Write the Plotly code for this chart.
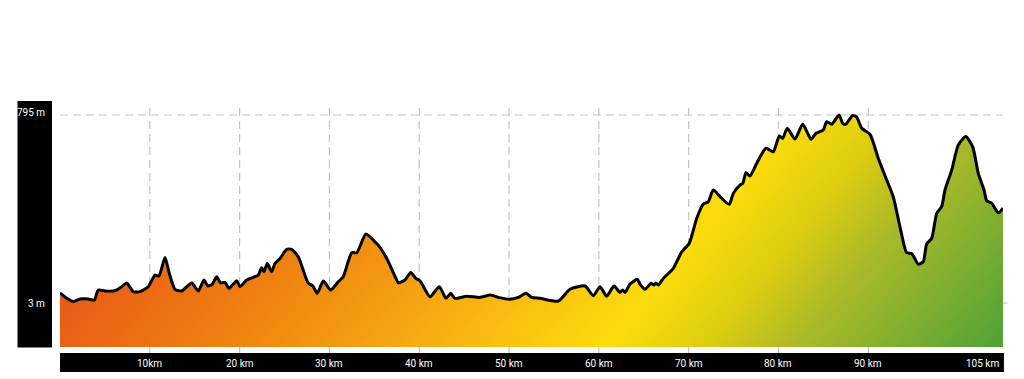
import base64
import numpy as np
import plotly.graph_objects as go

# ---------------- data ----------------
km = [0, 0.75, 1.48, 2.23, 3.15, 3.82, 4.26, 5.01, 6.12, 6.87,
      7.43, 8.16, 8.91, 9.83, 10.58, 11.02, 11.69, 12.17, 12.8, 13.55,
      14.66, 15.4, 16.03, 16.45, 16.96, 17.45, 17.89, 18.37, 18.82, 19.67,
      20.04, 20.79, 21.71, 22.08, 22.46, 22.71, 23.08, 23.57, 23.94, 24.5,
      25.24, 25.8, 26.53, 27.65, 28.14, 28.65, 29.32, 30.14, 30.99, 31.54,
      32.48, 33.04, 34.07, 35.07, 35.44, 36.38, 37.41, 37.67, 38.41, 39.05,
      39.61, 40.08, 41.2, 42.23, 42.98, 43.5, 43.98, 45.28, 46.77, 47.88,
      48.8, 50.1, 51.03, 51.89, 52.52, 53.45, 55.48, 56.79, 58.46, 59.38,
      60.13, 60.87, 61.69, 62.35, 62.65, 62.91, 63.47, 64.28, 64.58, 65.14,
      65.81, 66.14, 66.36, 66.62, 67.18, 68.29, 69.23, 70.07, 70.9, 71.63,
      72.19, 72.74, 73.68, 74.52, 74.97, 75.71, 76.02, 76.38, 76.83, 77.58,
      78.61, 79.42, 80.09, 80.47, 80.98, 81.84, 82.7, 83.62, 84.18, 84.99,
      85.37, 85.93, 86.74, 87.15, 87.48, 88.26, 88.71, 89.27, 90.19, 91.11,
      92.05, 92.78, 93.53, 94.28, 94.83, 95.57, 96.12, 96.5, 97.06, 97.62,
      98.17, 98.54, 99.29, 100.02, 100.85, 101.63, 102.25, 102.89, 103.19, 103.75,
      104.48, 105]

elev = [46, 23, 9, 20, 20, 16, 58, 54, 55, 72,
        88, 51, 51, 72, 121, 117, 195, 128, 61, 54,
        88, 54, 100, 75, 83, 114, 88, 90, 65, 97,
        72, 100, 114, 121, 152, 135, 170, 135, 170, 191,
        229, 229, 198, 86, 76, 44, 96, 58, 93, 114,
        215, 215, 294, 261, 247, 191, 107, 88, 100, 132,
        107, 97, 30, 72, 23, 44, 23, 32, 27, 37,
        27, 19, 27, 44, 27, 23, 11, 61, 75, 34,
        72, 32, 75, 48, 58, 48, 83, 103, 83, 61,
        86, 79, 88, 79, 107, 149, 219, 255, 360, 420,
        430, 479, 444, 419, 465, 500, 507, 552, 538, 592,
        655, 640, 707, 697, 739, 694, 756, 693, 718, 732,
        767, 756, 795, 760, 756, 793, 786, 739, 714, 613,
        521, 451, 324, 215, 212, 167, 177, 252, 276, 381,
        409, 479, 563, 669, 704, 661, 549, 479, 434, 423,
        383, 403]

grid_km = [10, 20, 30, 40, 50, 60, 70, 80, 90]
tick_km = [10, 20, 30, 40, 50, 60, 70, 80, 90, 105]
tick_labels = ["10km", "20 km", "30 km", "40 km", "50 km", "60 km",
               "70 km", "80 km", "90 km", "105 km"]
y_label_vals = [795, 3]
y_labels = ["795 m", "3 m"]

# ---------------- styling ----------------
X_MIN, X_MAX = 0, 105
Y_MIN, Y_MAX = -182, 854
GRID_TOP = 824
W, H = 1024, 379
ML, MR, MT, MB = 60, 21, 101, 32
PW, PH = W - ML - MR, H - MT - MB

grad_stops = [(0.00, "#e2461c"), (0.14, "#e85a18"), (0.25, "#ec7213"),
              (0.33, "#ef8510"), (0.47, "#f5a812"), (0.55, "#f9bf11"),
              (0.61, "#fbcf0f"), (0.655, "#fbdc0b"), (0.74, "#dccd11"),
              (0.82, "#aab929"), (1.00, "#4fa236")]
GRID_COLOR = "#c4c4c4"
FONT = "Roboto"
SMOOTH = 0.6

# diagonal gradient image (pure styling, fills plot area)
stops_svg = "".join(f'<stop offset="{o}" stop-color="{c}"/>' for o, c in grad_stops)
svg = (f'<svg xmlns="http://www.w3.org/2000/svg" width="{PW}" height="{PH}" '
       f'viewBox="0 0 {PW} {PH}" preserveAspectRatio="none"><defs>'
       f'<linearGradient id="g" gradientUnits="userSpaceOnUse" x1="0" y1="0" '
       f'x2="688" y2="559">{stops_svg}</linearGradient></defs>'
       f'<rect x="0" y="0" width="{PW}" height="{PH}" fill="url(#g)"/></svg>')
src = "data:image/svg+xml;base64," + base64.b64encode(svg.encode()).decode()

fig = go.Figure()

# white mask above the profile (top edge, then profile filled to it)
fig.add_trace(go.Scatter(
    x=[X_MIN, X_MAX], y=[Y_MAX + 200, Y_MAX + 200], mode="lines",
    line=dict(width=0, color="white"), hoverinfo="skip", showlegend=False))
fig.add_trace(go.Scatter(
    x=km, y=elev, fill="tonexty", fillcolor="white", mode="lines",
    line=dict(width=0, color="white", shape="spline", smoothing=SMOOTH),
    hoverinfo="skip", showlegend=False))

# vertical dashed grid lines, only above the profile
gx, gy = [], []
for g in grid_km:
    base = float(np.interp(g, km, elev))
    gx += [g, g, None]
    gy += [GRID_TOP, base, None]
fig.add_trace(go.Scatter(
    x=gx, y=gy, mode="lines", hoverinfo="skip", showlegend=False,
    line=dict(color=GRID_COLOR, width=1.2, dash="8px,5px")))

# horizontal dashed line at max elevation
fig.add_trace(go.Scatter(
    x=[X_MIN, X_MAX], y=[y_label_vals[0], y_label_vals[0]], mode="lines",
    hoverinfo="skip", showlegend=False,
    line=dict(color=GRID_COLOR, width=1.2, dash="8px,5px")))

# profile line
fig.add_trace(go.Scatter(
    x=km, y=elev, mode="lines", showlegend=False,
    line=dict(color="black", width=3, shape="spline", smoothing=SMOOTH)))

shapes = []
# left black bar
shapes.append(dict(type="rect", xref="paper", yref="paper",
                   x0=(17.5 - ML) / PW, x1=(52 - ML) / PW, y0=-0.002, y1=1,
                   fillcolor="black", line=dict(width=0)))
# bottom black bar
shapes.append(dict(type="rect", xref="paper", yref="paper",
                   x0=0, x1=1.001, y0=-(372 - (MT + PH)) / PH, y1=-(353 - (MT + PH)) / PH,
                   fillcolor="black", line=dict(width=0)))
# grid line stubs below the filled area
for g in grid_km:
    shapes.append(dict(type="line", xref="x", yref="paper", x0=g, x1=g,
                       y0=-(353 - (MT + PH)) / PH, y1=0,
                       line=dict(color=GRID_COLOR, width=1.2)))
# small tick at the right for the min label
shapes.append(dict(type="line", xref="paper", yref="y", x0=1.0, x1=1.005,
                   y0=y_label_vals[1], y1=y_label_vals[1],
                   line=dict(color=GRID_COLOR, width=1)))

annotations = []
for v, t in zip(y_label_vals, y_labels):
    annotations.append(dict(x=(47 - ML) / PW, xref="paper", y=v, yref="y",
                            xanchor="right", yanchor="middle",
                            yshift=3 if v == y_label_vals[0] else 0,
                            text=t, showarrow=False,
                            font=dict(family=FONT, size=10, color="white")))
for v, t in zip(tick_km, tick_labels):
    last = v == tick_km[-1]
    annotations.append(dict(x=v, xref="x", y=-(363 - (MT + PH)) / PH, yref="paper",
                            xanchor="right" if last else "center", yanchor="middle",
                            xshift=-2 if last else 0,
                            text=t, showarrow=False,
                            font=dict(family=FONT, size=10, color="white")))

fig.update_layout(
    width=W, height=H,
    margin=dict(l=ML, r=MR, t=MT, b=MB, pad=0),
    paper_bgcolor="white", plot_bgcolor="white",
    xaxis=dict(range=[X_MIN, X_MAX], showgrid=False, zeroline=False,
               showticklabels=False, showline=False, fixedrange=True),
    yaxis=dict(range=[Y_MIN, Y_MAX], showgrid=False, zeroline=False,
               showticklabels=False, showline=False, fixedrange=True),
    images=[dict(source=src, xref="x", yref="y", x=X_MIN, y=Y_MAX,
                 sizex=X_MAX - X_MIN, sizey=Y_MAX - Y_MIN, sizing="stretch",
                 xanchor="left", yanchor="top", layer="below")],
    shapes=shapes,
    annotations=annotations,
    showlegend=False,
)

fig.write_html("out.html", config={"displayModeBar": False},
               post_script="document.body.style.margin='0';document.body.style.overflow='hidden';")
